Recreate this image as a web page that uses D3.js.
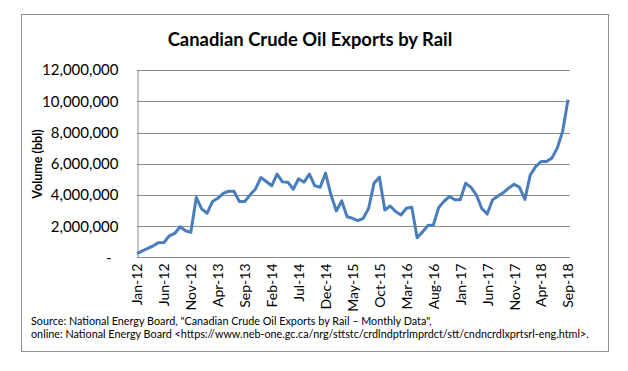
<!DOCTYPE html>
<html>
<head>
<meta charset="utf-8">
<script src="https://cdn.jsdelivr.net/npm/d3@7"></script>
<style>
  body { margin: 0; background: #fff; }
  text { font-family: Lato, "Open Sans", sans-serif; fill: #000; }
</style>
</head>
<body>
<div id="chart"></div>
<script>
// monthly crude oil exports by rail, barrels (Jan 2012 - Sep 2018)
var exportVolumes = [
  250000, 420000, 580000, 750000, 950000, 960000, 1390000, 1540000, 1970000, 1710000, 1610000, 3840000,
  3110000, 2830000, 3580000, 3790000, 4110000, 4240000, 4240000, 3580000, 3580000, 4010000, 4390000, 5120000,
  4860000, 4590000, 5340000, 4840000, 4820000, 4370000, 5040000, 4820000, 5340000, 4590000, 4500000, 5400000,
  4010000, 2980000, 3620000, 2610000, 2510000, 2360000, 2510000, 3150000, 4760000, 5140000, 3040000, 3300000,
  2940000, 2720000, 3150000, 3210000, 1260000, 1640000, 2050000, 2080000, 3200000, 3600000, 3900000, 3700000,
  3700000, 4750000, 4490000, 4000000, 3140000, 2780000, 3690000, 3940000, 4150000, 4440000, 4690000, 4490000,
  3720000, 5290000, 5820000, 6140000, 6140000, 6360000, 7000000, 8070000, 10100000
];

// one category per month, labelled like "Jan-12"
var months = d3.utcMonth.range(new Date(Date.UTC(2012, 0, 1)), new Date(Date.UTC(2018, 9, 1)))
  .map(d3.utcFormat("%b-%y"));

// only every fifth month gets a label
var monthLabels = ["Jan-12", "Jun-12", "Nov-12", "Apr-13", "Sep-13", "Feb-14", "Jul-14", "Dec-14", "May-15",
  "Oct-15", "Mar-16", "Aug-16", "Jan-17", "Jun-17", "Nov-17", "Apr-18", "Sep-18"];

var volumeTicks = [0, 2000000, 4000000, 6000000, 8000000, 10000000, 12000000];

var chartTitle = "Canadian Crude Oil Exports by Rail";
var yTitle = "Volume (bbl)";
var sourceLines = [
  "Source:  National Energy Board, \"Canadian Crude Oil Exports by Rail \u2013 Monthly Data\",",
  "online: National Energy Board <https://www.neb-one.gc.ca/nrg/sttstc/crdlndptrlmprdct/stt/cndncrdlxprtsrl-eng.html>."
];

var width = 628, height = 371;
var plot = { left: 137, right: 570, top: 70, bottom: 257.5 };

var svg = d3.select("#chart")
  .append("svg")
  .attr("width", width)
  .attr("height", height);

svg.append("rect")
  .attr("width", width)
  .attr("height", height)
  .attr("fill", "#fff");

// chart frame
svg.append("rect")
  .attr("x", 21.5)
  .attr("y", 14.5)
  .attr("width", 587)
  .attr("height", 337)
  .attr("fill", "#fff")
  .attr("stroke", "#8e8e8e");

var xPositionScale = d3.scalePoint().domain(months).range([plot.left, plot.right - 2]);
var yPositionScale = d3.scaleLinear().domain([0, 12000000]).range([plot.bottom, plot.top]);

// gridlines
svg.append("g")
  .selectAll("line")
  .data(volumeTicks.slice(1))
  .enter().append("line")
  .attr("x1", plot.left)
  .attr("x2", plot.right)
  .attr("y1", function(d) { return Math.round(yPositionScale(d)) + 0.5 })
  .attr("y2", function(d) { return Math.round(yPositionScale(d)) + 0.5 })
  .attr("stroke", "#8a8a8a");

var yAxis = d3.axisLeft(yPositionScale)
  .tickValues(volumeTicks)
  .tickSize(0)
  .tickPadding(19)
  .tickFormat(function(d) { return d === 0 ? "-" : d3.format(",")(d) });

var yAxisG = svg.append("g")
  .attr("transform", "translate(" + (plot.left + 0.5) + ",0)")
  .call(yAxis);
yAxisG.select(".domain").attr("stroke", "#8a8a8a");
yAxisG.selectAll("text")
  .style("font-size", "15px")
  .style("fill", "#000");
yAxisG.selectAll(".tick")
  .filter(function(d) { return d === 0 })
  .select("text")
  .attr("x", -26);

var xAxis = d3.axisBottom(xPositionScale)
  .tickValues(monthLabels)
  .tickSize(0);

var xAxisG = svg.append("g")
  .attr("transform", "translate(0," + plot.bottom + ")")
  .call(xAxis);
xAxisG.select(".domain")
  .attr("stroke", "#8a8a8a")
  .attr("d", "M" + plot.left + ",0H" + plot.right);
xAxisG.selectAll("text")
  .attr("transform", "rotate(-90)")
  .attr("text-anchor", "end")
  .attr("x", -6)
  .attr("y", 0)
  .attr("dy", "0.35em")
  .style("font-size", "14px")
  .style("fill", "#000");

// the series line
var line = d3.line()
  .x(function(d, i) { return xPositionScale(months[i]) })
  .y(function(d) { return yPositionScale(d) });

svg.append("path")
  .datum(exportVolumes)
  .attr("d", line)
  .attr("fill", "none")
  .attr("stroke", "#4a7ebb")
  .attr("stroke-width", 3)
  .attr("stroke-linejoin", "round");

svg.append("text")
  .attr("x", 310)
  .attr("y", 46)
  .attr("text-anchor", "middle")
  .style("font-size", "18.4px")
  .style("font-weight", "bold")
  .text(chartTitle);

svg.append("text")
  .attr("transform", "translate(42,164) rotate(-90)")
  .attr("text-anchor", "middle")
  .style("font-size", "12.5px")
  .style("font-weight", "bold")
  .text(yTitle);

svg.selectAll(".source")
  .data(sourceLines)
  .enter().append("text")
  .attr("class", "source")
  .attr("x", 31)
  .attr("y", function(d, i) { return 325 + i * 12.5 })
  .style("font-size", "10.8px")
  .text(function(d) { return d });
</script>
</body>
</html>
